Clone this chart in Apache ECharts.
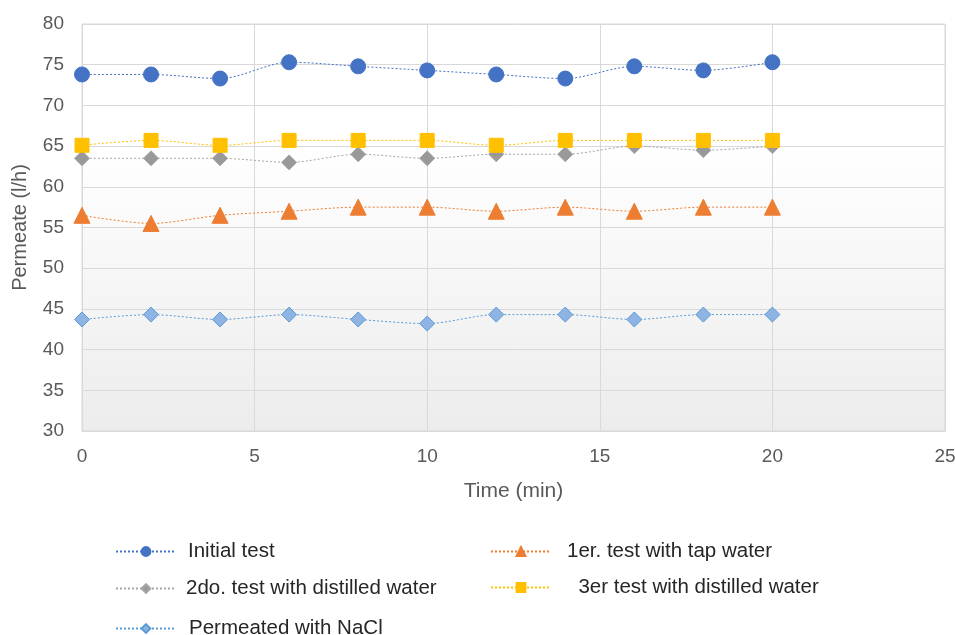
<!DOCTYPE html>
<html>
<head>
<meta charset="utf-8">
<script src="https://cdn.jsdelivr.net/npm/echarts@6/dist/echarts.min.js"></script>
<style>
  html, body { margin: 0; padding: 0; background: #ffffff; }
  #chart { width: 955px; height: 635px; }
</style>
</head>
<body>
<div id="chart"></div>
<script>
// Sampling times (min)
const times = [0, 2, 4, 6, 8, 10, 12, 14, 16, 18, 20];

// Permeate flow (l/h) for each run
const initialTest = [73.8, 73.8, 73.3, 75.3, 74.8, 74.3, 73.8, 73.3, 74.8, 74.3, 75.3];
const tapWater1 = [56.5, 55.5, 56.5, 57.0, 57.5, 57.5, 57.0, 57.5, 57.0, 57.5, 57.5];
const distilled2 = [63.5, 63.5, 63.5, 63.0, 64.0, 63.5, 64.0, 64.0, 65.0, 64.5, 65.0];
const distilled3 = [65.1, 65.7, 65.1, 65.7, 65.7, 65.7, 65.1, 65.7, 65.7, 65.7, 65.7];
const nacl = [43.7, 44.3, 43.7, 44.3, 43.7, 43.2, 44.3, 44.3, 43.7, 44.3, 44.3];

const seriesNames = [
  'Initial test',
  '1er. test with tap water',
  '2do. test with distilled water',
  '  3er test with distilled water',
  'Permeated with NaCl'
];

const FONT = '"Liberation Sans", Arial, sans-serif';

function pairs(vals) {
  return times.map((t, i) => [t, vals[i]]);
}

function lineSeries(name, vals, color, symbol, size, fill) {
  return {
    name: name,
    type: 'line',
    data: pairs(vals),
    smooth: 0.3,
    symbol: symbol,
    symbolSize: size,
    showSymbol: true,
    lineStyle: { color: color, width: 1, type: [2, 2] },
    itemStyle: { color: fill || color, borderColor: color, borderWidth: 1 },
    emphasis: { disabled: true },
    z: 3
  };
}

// one legend entry per component so every row sits exactly where wanted
function legendItem(name, left, top, textPad) {
  return {
    data: [name],
    left: left, top: top,
    padding: 0,
    itemWidth: 60, itemHeight: 11,
    textStyle: { fontFamily: FONT, fontSize: 20.5, color: '#262626', padding: [0, 0, 0, textPad] }
  };
}

const chart = echarts.init(document.getElementById('chart'), null, { renderer: 'canvas' });

chart.setOption({
  animation: false,
  backgroundColor: '#ffffff',
  grid: {
    left: 82, right: 10, top: 24, bottom: 204,
    outerBoundsMode: 'none',
    containLabel: false,
    show: true,
    borderColor: '#d9d9d9',
    borderWidth: 1,
    backgroundColor: new echarts.graphic.LinearGradient(0, 0, 0, 1, [
      { offset: 0, color: '#ffffff' },
      { offset: 0.3, color: '#ffffff' },
      { offset: 1, color: '#ececec' }
    ])
  },
  legend: [
    legendItem(seriesNames[0], 115, 541, 7),
    legendItem(seriesNames[2], 115, 578, 5),
    legendItem(seriesNames[4], 115, 618, 8),
    legendItem(seriesNames[1], 490, 541, 11),
    legendItem(seriesNames[3], 490, 577, 11)
  ],
  xAxis: {
    type: 'value',
    min: 0, max: 25, interval: 5,
    name: 'Time (min)',
    nameLocation: 'middle',
    nameGap: 50,
    nameTextStyle: { fontFamily: FONT, fontSize: 21, color: '#595959' },
    axisLine: { show: true, lineStyle: { color: '#d9d9d9' } },
    axisTick: { show: false },
    axisLabel: { fontFamily: FONT, fontSize: 19, color: '#595959', margin: 16 },
    splitLine: { show: true, lineStyle: { color: '#d9d9d9', width: 1 } }
  },
  yAxis: {
    type: 'value',
    min: 30, max: 80, interval: 5,
    name: 'Permeate (l/h)',
    nameLocation: 'middle',
    nameGap: 52,
    nameTextStyle: { fontFamily: FONT, fontSize: 20, color: '#595959' },
    axisLine: { show: false },
    axisTick: { show: false },
    axisLabel: { fontFamily: FONT, fontSize: 19, color: '#595959', margin: 18 },
    splitLine: { show: true, lineStyle: { color: '#d9d9d9', width: 1 } }
  },
  series: [
    lineSeries(seriesNames[0], initialTest, '#4472c4', 'circle', 15),
    lineSeries(seriesNames[1], tapWater1, '#ed7d31', 'triangle', 16),
    lineSeries(seriesNames[2], distilled2, '#a5a5a5', 'diamond', 15, '#999999'),
    lineSeries(seriesNames[3], distilled3, '#ffc000', 'rect', 14),
    lineSeries(seriesNames[4], nacl, '#5b9bd5', 'diamond', 15, '#8db4e2')
  ]
});
</script>
</body>
</html>
